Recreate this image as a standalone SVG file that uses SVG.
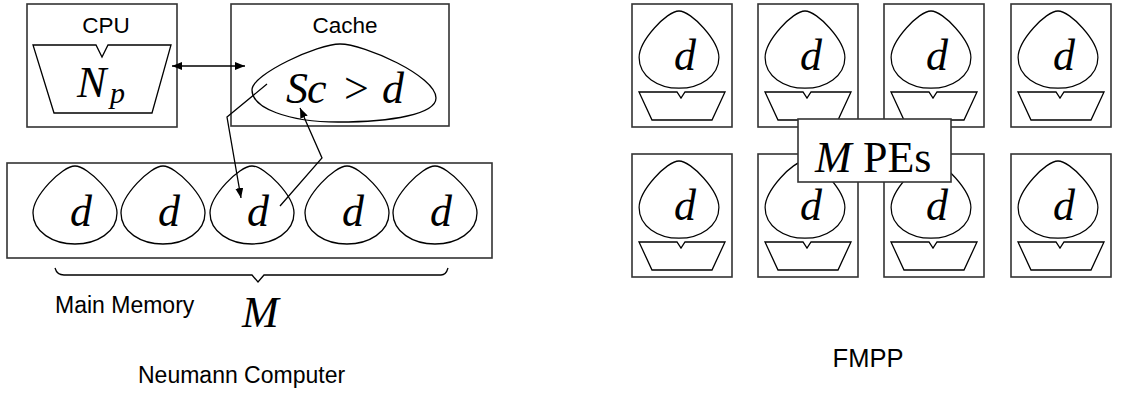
<svg xmlns="http://www.w3.org/2000/svg" xmlns:xlink="http://www.w3.org/1999/xlink" width="1125" height="396" viewBox="0 0 1125 396">
<style>
.box{fill:#fff;stroke:#333;stroke-width:1.6}
.ln{fill:none;stroke:#000;stroke-width:1.3}
.lbl{font-family:"Liberation Sans",Arial,sans-serif;fill:#000}
.m{font-family:"Liberation Serif","Times New Roman",serif;font-style:italic;fill:#000}
.r{font-family:"Liberation Serif","Times New Roman",serif;font-style:normal;fill:#000}
</style>
<defs>
<path id="drop" d="M0,0 C13,0 42,30 42,47 C42,66 22,78 0,78 C-22,78 -42,66 -42,47 C-42,30 -13,0 0,0 Z" fill="none" stroke="#000" stroke-width="1.3"/>
<path id="pe" d="M7,88 L45,88 L49,94 L53,88 L93,88 L80,116 L20,116 Z" fill="none" stroke="#000" stroke-width="1.3"/>
<marker id="ah" viewBox="0 0 10 8" refX="10" refY="4" markerWidth="10" markerHeight="8" markerUnits="userSpaceOnUse" orient="auto-start-reverse">
<path d="M0,0 L10,4 L0,8 Z" fill="#000"/>
</marker>
</defs>

<g id="cpu">
<rect class="box" x="27" y="4" width="150" height="123"/>
<text class="lbl" x="106" y="33" font-size="22.5" text-anchor="middle">CPU</text>
<path class="ln" d="M33,45 L96,45 L102,57 L108,45 L171,45 L152,113 L54,113 Z"/>
<text class="m" x="77" y="97" font-size="44">N</text>
<text class="m" x="110" y="103" font-size="30">p</text>
</g>

<g id="cache">
<rect class="box" x="231" y="4" width="218" height="122"/>
<text class="lbl" x="345" y="33" font-size="22.5" text-anchor="middle">Cache</text>
<path class="ln" d="M252,90 C252,74 318,44 340,44 C364,44 436,76 436,98 C436,114 392,122 338,122 C288,122 252,108 252,90 Z"/>
<text font-size="44" y="103"><tspan class="m" x="286">S</tspan><tspan class="m" x="307">c</tspan><tspan class="r" x="344">&gt;</tspan><tspan class="m" x="382">d</tspan></text>
</g>

<g id="memory">
<rect class="box" x="7" y="163" width="485" height="95"/>
<use xlink:href="#drop" x="75" y="166"/>
<use xlink:href="#drop" x="163" y="166"/>
<use xlink:href="#drop" x="252" y="166"/>
<use xlink:href="#drop" x="347" y="166"/>
<use xlink:href="#drop" x="435" y="166"/>
<g class="m" font-size="44" text-anchor="middle">
<text x="81" y="226">d</text>
<text x="169" y="226">d</text>
<text x="258" y="226">d</text>
<text x="353" y="226">d</text>
<text x="441" y="226">d</text>
</g>
<path class="ln" d="M55,268 Q57,275 64,275 L252,275 L258,282 L264,275 L441,275 Q446,275 448,268"/>
<text class="lbl" x="55" y="313" font-size="23">Main Memory</text>
<text class="m" x="242" y="327" font-size="44">M</text>
</g>

<g id="connectors">
<line class="ln" x1="172" y1="66" x2="245" y2="66" marker-start="url(#ah)" marker-end="url(#ah)"/>
<polyline class="ln" points="267,84 227,117 241,198" marker-end="url(#ah)"/>
<polyline class="ln" points="280,206 322,158 300,108" marker-end="url(#ah)"/>
</g>

<text class="lbl" x="138" y="383" font-size="23">Neumann Computer</text>

<g id="pe1" transform="translate(632,4)"><rect class="box" x="0" y="0" width="100" height="123"/><use xlink:href="#drop" x="47" y="7" transform="translate(47,7) scale(0.95,0.99) translate(-47,-7)"/><text class="m" x="53" y="66" font-size="44" text-anchor="middle">d</text><use xlink:href="#pe"/></g>
<g id="pe2" transform="translate(758,4)"><rect class="box" x="0" y="0" width="100" height="123"/><use xlink:href="#drop" x="47" y="7" transform="translate(47,7) scale(0.95,0.99) translate(-47,-7)"/><text class="m" x="53" y="66" font-size="44" text-anchor="middle">d</text><use xlink:href="#pe"/></g>
<g id="pe3" transform="translate(884,4)"><rect class="box" x="0" y="0" width="100" height="123"/><use xlink:href="#drop" x="47" y="7" transform="translate(47,7) scale(0.95,0.99) translate(-47,-7)"/><text class="m" x="53" y="66" font-size="44" text-anchor="middle">d</text><use xlink:href="#pe"/></g>
<g id="pe4" transform="translate(1011,4)"><rect class="box" x="0" y="0" width="100" height="123"/><use xlink:href="#drop" x="47" y="7" transform="translate(47,7) scale(0.95,0.99) translate(-47,-7)"/><text class="m" x="53" y="66" font-size="44" text-anchor="middle">d</text><use xlink:href="#pe"/></g>
<g id="pe5" transform="translate(632,154)"><rect class="box" x="0" y="0" width="100" height="123"/><use xlink:href="#drop" x="47" y="7" transform="translate(47,7) scale(0.95,0.99) translate(-47,-7)"/><text class="m" x="53" y="66" font-size="44" text-anchor="middle">d</text><use xlink:href="#pe"/></g>
<g id="pe6" transform="translate(758,154)"><rect class="box" x="0" y="0" width="100" height="123"/><use xlink:href="#drop" x="47" y="7" transform="translate(47,7) scale(0.95,0.99) translate(-47,-7)"/><text class="m" x="53" y="66" font-size="44" text-anchor="middle">d</text><use xlink:href="#pe"/></g>
<g id="pe7" transform="translate(884,154)"><rect class="box" x="0" y="0" width="100" height="123"/><use xlink:href="#drop" x="47" y="7" transform="translate(47,7) scale(0.95,0.99) translate(-47,-7)"/><text class="m" x="53" y="66" font-size="44" text-anchor="middle">d</text><use xlink:href="#pe"/></g>
<g id="pe8" transform="translate(1011,154)"><rect class="box" x="0" y="0" width="100" height="123"/><use xlink:href="#drop" x="47" y="7" transform="translate(47,7) scale(0.95,0.99) translate(-47,-7)"/><text class="m" x="53" y="66" font-size="44" text-anchor="middle">d</text><use xlink:href="#pe"/></g>

<g id="mpes">
<rect class="box" x="798" y="119" width="153" height="63"/>
<text font-size="44" y="172"><tspan class="m" x="815">M</tspan><tspan class="r" x="863">PEs</tspan></text>
</g>

<text class="lbl" x="868" y="367" font-size="25.5" text-anchor="middle">FMPP</text>
</svg>
